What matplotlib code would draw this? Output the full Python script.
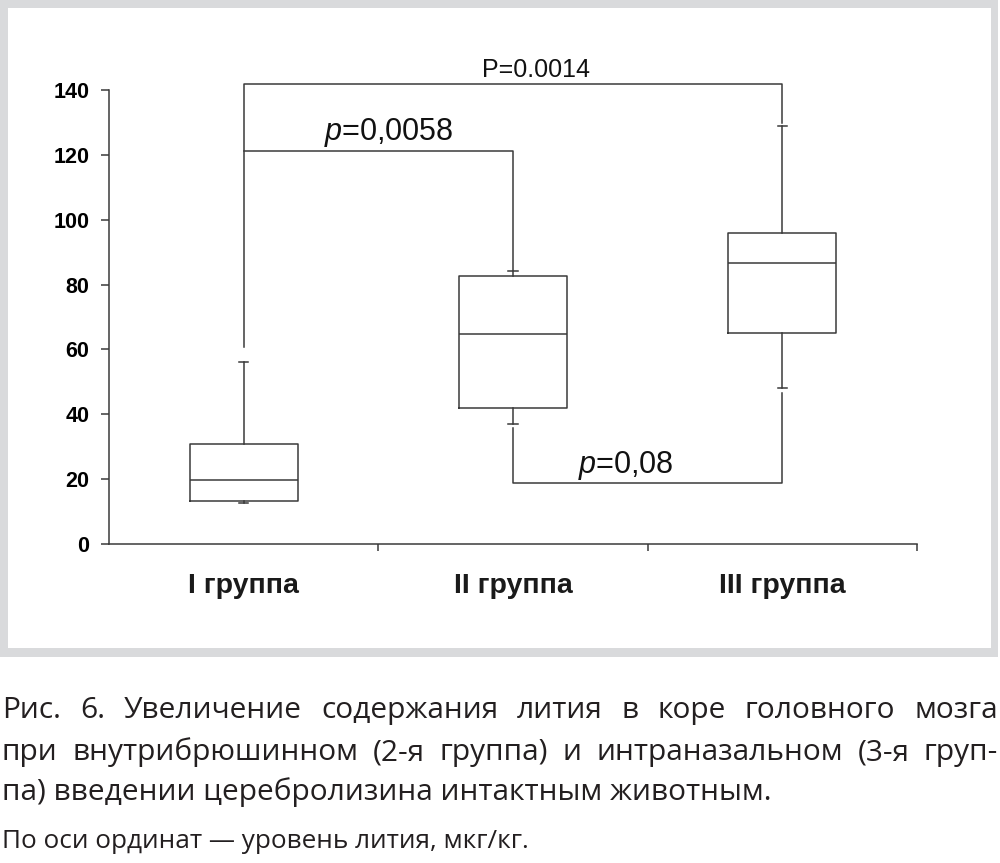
import matplotlib
matplotlib.use("Agg")
import matplotlib.pyplot as plt
from matplotlib.patches import Rectangle

# box statistics
groups = ["I группа", "II группа", "III группа"]
q1 = [13.4, 42.0, 65.0]
med = [19.7, 64.7, 86.6]
q3 = [30.7, 82.7, 96.0]
whislo = [12.5, 36.9, 48.2]
whishi = [56.2, 84.2, 128.9]

yticks = [0, 20, 40, 60, 80, 100, 120, 140]

# significance brackets
p_top = "P=0.0014"
p_mid = "$\\mathit{p}$=0,0058"
p_low = "$\\mathit{p}$=0,08"
top_level, top_left_end, top_right_end = 141.8, 60.8, 129.9
mid_level, mid_right_end = 121.2, 84.5
low_level, low_left_end, low_right_end = 18.7, 35.7, 46.5

caption_lines = [
    "Рис. 6. Увеличение содержания лития в коре головного мозга",
    "при внутрибрюшинном (2-я группа) и интраназальном (3-я груп-",
    "па) введении церебролизина интактным животным.",
]
caption_note = "По оси ординат — уровень лития, мкг/кг."

plt.rcParams["mathtext.fontset"] = "custom"
plt.rcParams["mathtext.rm"] = "Liberation Sans"
plt.rcParams["mathtext.it"] = "Liberation Sans:italic"

W, H = 1000, 863
fig = plt.figure(figsize=(W / 100, H / 100), dpi=100)

# grey frame around the chart
fig.add_artist(Rectangle((0, 1 - 657 / H), 998 / W, 657 / H, transform=fig.transFigure,
                         facecolor="#d9dadc", edgecolor="none", zorder=-2))
fig.add_artist(Rectangle((8 / W, 1 - 648 / H), 983 / W, 640 / H, transform=fig.transFigure,
                         facecolor="white", edgecolor="none", zorder=-1))

ax = fig.add_axes([109 / W, 1 - 544 / H, 808 / W, 454 / H])
ax.patch.set_alpha(0)

lc = "#3a3a3a"
lw = 1.1

stats = []
for i in range(3):
    stats.append({"med": med[i], "q1": q1[i], "q3": q3[i],
                  "whislo": whislo[i], "whishi": whishi[i], "fliers": []})

ax.bxp(stats, positions=[1, 2, 3], widths=0.4, capwidths=0.035, showfliers=False,
       boxprops=dict(color=lc, linewidth=lw),
       medianprops=dict(color=lc, linewidth=lw),
       whiskerprops=dict(color=lc, linewidth=lw),
       capprops=dict(color=lc, linewidth=lw))

# brackets
kw = dict(color=lc, linewidth=lw, clip_on=False)
ax.plot([1, 1, 3, 3], [top_left_end, top_level, top_level, top_right_end], **kw)
ax.plot([1, 2, 2], [mid_level, mid_level, mid_right_end], **kw)
ax.plot([2, 2, 3, 3], [low_left_end, low_level, low_level, low_right_end], **kw)

ax.text(2.086, 144.1, p_top, ha="center", va="baseline", fontsize=18,
        family="Liberation Sans", color="#111111")
ax.text(1.54, 124.6, p_mid, ha="center", va="baseline", fontsize=22,
        family="Liberation Sans", color="#111111")
ax.text(2.42, 21.9, p_low, ha="center", va="baseline", fontsize=22,
        family="Liberation Sans", color="#111111")

ax.set_xlim(0.5, 3.5)
ax.set_ylim(0, 140)
ax.spines["top"].set_visible(False)
ax.spines["right"].set_visible(False)
for s in ["left", "bottom"]:
    ax.spines[s].set_color(lc)
    ax.spines[s].set_linewidth(lw)

ax.set_yticks(yticks)
ax.set_yticklabels([str(v) for v in yticks], fontsize=15.5, fontweight="bold",
                   family="Liberation Sans")
ax.tick_params(axis="y", length=6, width=lw, color=lc, pad=8)

ax.set_xticks([1.5, 2.5, 3.5])
ax.set_xticklabels([])
ax.tick_params(axis="x", which="major", length=5, width=lw, color=lc)
ax.set_xticks([1, 2, 3], minor=True)
ax.set_xticklabels(groups, minor=True, fontsize=20.5, fontweight="bold",
                   family="Liberation Sans", color="#1a1a1a")
ax.tick_params(axis="x", which="minor", length=0, pad=21)

# caption, first two lines justified to the full width
cap_font = dict(family="Open Sans", fontsize=21.5, color="#231f20")
renderer = fig.canvas.get_renderer()
baselines = [718, 760, 800]
for n, line in enumerate(caption_lines):
    yb = 1 - baselines[n] / H
    if n < 2:
        words = line.split(" ")
        texts = [fig.text(0, yb, w, va="baseline", ha="left", **cap_font) for w in words]
        widths = [t.get_window_extent(renderer=renderer).width for t in texts]
        left, right = 2, 998
        gap = (right - left - sum(widths)) / (len(words) - 1)
        x = left
        for t, w in zip(texts, widths):
            t.set_x(x / W)
            x += w + gap
    else:
        fig.text(2 / W, yb, line, va="baseline", ha="left", **cap_font)

fig.text(2 / W, 1 - 848 / H, caption_note, va="baseline", ha="left",
         family="Open Sans", fontsize=18.8, color="#231f20")

fig.savefig("out.png", dpi=100)
